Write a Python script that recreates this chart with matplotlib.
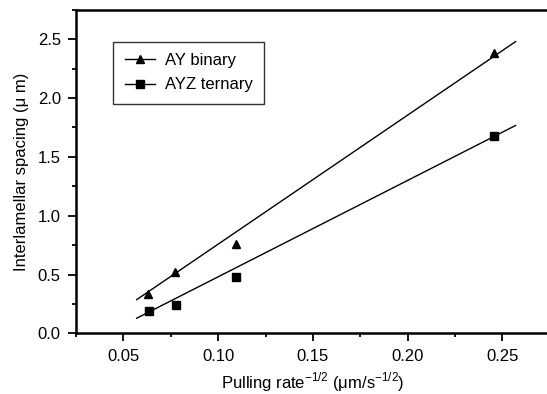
import numpy as np
import matplotlib.pyplot as plt
from matplotlib.ticker import MultipleLocator

plt.rcParams['font.family'] = ['Liberation Sans', 'DejaVu Sans']
plt.rcParams['mathtext.fontset'] = 'custom'
plt.rcParams['mathtext.rm'] = 'Liberation Sans'

# pulling rate^-1/2, spacing
x_bin = np.array([0.0632, 0.0774, 0.1094, 0.2454])
y_bin = np.array([0.335, 0.52, 0.76, 2.385])
x_ter = np.array([0.0633, 0.0776, 0.1094, 0.2454])
y_ter = np.array([0.187, 0.24, 0.477, 1.68])
# linear fits as drawn (slope, intercept)
fit_bin = [10.97, -0.339]
fit_ter = [8.195, -0.339]
fit_range = [0.057, 0.257]

fig = plt.figure(figsize=(5.47, 3.94), dpi=100)
ax = fig.add_axes([0.139, 0.154, 0.866, 0.821])

xf = np.array(fit_range)
for xs, ys, p, m, lab in [(x_bin, y_bin, fit_bin, '^', 'AY binary'),
						  (x_ter, y_ter, fit_ter, 's', 'AYZ ternary')]:
	ax.plot(xf, np.polyval(p, xf), '-', color='black', lw=1)
	ax.plot(xs, ys, m, color='black', ms=6, ls='none')
	ax.plot([], [], m + '-', color='black', ms=6, lw=1, label=lab)

ax.set_xlim(0.025, 0.275)
ax.set_ylim(0, 2.75)
ax.xaxis.set_major_locator(MultipleLocator(0.05))
ax.xaxis.set_minor_locator(MultipleLocator(0.025))
ax.yaxis.set_major_locator(MultipleLocator(0.5))
ax.yaxis.set_minor_locator(MultipleLocator(0.25))
ax.set_xticks([0.05, 0.10, 0.15, 0.20, 0.25])
ax.set_xticklabels(['0.05', '0.10', '0.15', '0.20', '0.25'])
ax.tick_params(which='both', direction='out', labelsize=12, width=1.3)
ax.tick_params(which='major', length=6, pad=5)
ax.tick_params(which='minor', length=3)
for s in ax.spines.values():
	s.set_linewidth(1.8)

ax.set_xlabel('Pulling rate$^{\\mathregular{-1/2}}$ (\u03bcm/s$^{\\mathregular{-1/2}}$)', fontsize=12, labelpad=5)
ax.set_ylabel('Interlamellar spacing (\u03bc m)', fontsize=12, labelpad=6)

leg = ax.legend(loc='upper left', bbox_to_anchor=(0.078, 0.902), fontsize=12, frameon=True,
	fancybox=False, edgecolor='black', handlelength=1.8, handletextpad=0.6,
	borderpad=0.7, labelspacing=0.55, borderaxespad=0)
leg.get_frame().set_linewidth(1)

fig.savefig('out.png', dpi=100)
